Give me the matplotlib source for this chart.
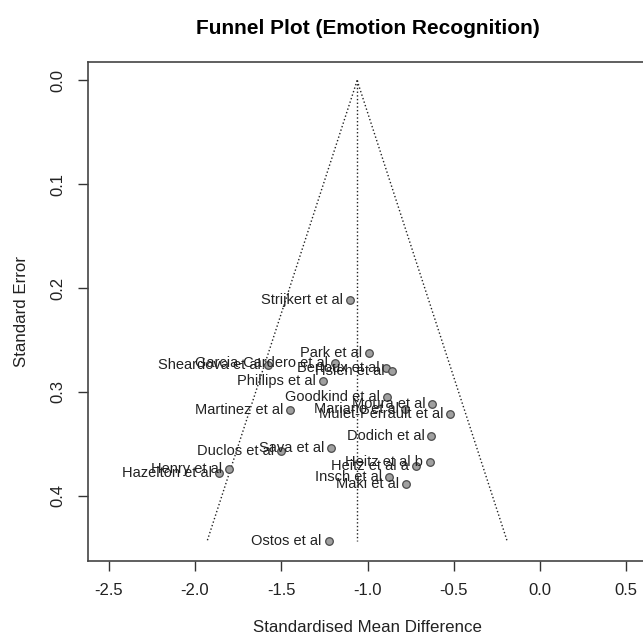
import numpy as np
import matplotlib
matplotlib.use("Agg")
import matplotlib.pyplot as plt

plt.rcParams['font.family'] = ['Liberation Sans', 'DejaVu Sans']

# study labels, effect sizes (SMD) and standard errors
studies = ["Strijkert et al", "Park et al", "Garcia-Cardero et al", "Sheardova et al",
           "Bertoux et al", "Hsieh et al", "Phillips et al", "Goodkind et al",
           "Martinez et al", "Moura et al", "Mariano et al", "Mulet-Perrault et al",
           "Dodich et al", "Sava et al", "Duclos et al", "Henry et al",
           "Hazelton et al", "Heitz et al b", "Heitz et al a", "Insch et al",
           "Maki et al", "Ostos et al"]
smd = [-1.10, -0.99, -1.19, -1.575,
       -0.89, -0.86, -1.26, -0.885,
       -1.45, -0.625, -0.78, -0.52,
       -0.63, -1.21, -1.50, -1.80,
       -1.86, -0.64, -0.72, -0.875,
       -0.775, -1.225]
se = [0.211, 0.262, 0.272, 0.274,
      0.277, 0.280, 0.289, 0.305,
      0.317, 0.312, 0.316, 0.321,
      0.342, 0.354, 0.357, 0.374,
      0.378, 0.367, 0.371, 0.382,
      0.389, 0.444]
pooled = -1.06

fig = plt.figure(figsize=(6.43, 6.34), dpi=100)
ax = fig.add_axes([88 / 643, 73 / 634, 559 / 643, 499 / 634])

ax.scatter(smd, se, s=30, facecolor="#a0a0a0", edgecolor="#4a4a4a", linewidth=0.9, zorder=3)
for name, x, y in zip(studies, smd, se):
    ax.annotate(name, (x, y), xytext=(-5, 0), textcoords="offset points",
                ha="right", va="center", fontsize=10.5, color="#222222", zorder=4)

# funnel: pooled estimate +/- 1.96 * SE
top = max(se)
ax.plot([pooled, pooled], [0, top], ls=":", color="#222222", lw=1)
ax.plot([pooled, pooled - 1.96 * top], [0, top], ls=":", color="#222222", lw=1)
ax.plot([pooled, pooled + 1.96 * top], [0, top], ls=":", color="#222222", lw=1)

ax.set_xlim(-2.62, 0.62)
ax.set_ylim(0.4628, -0.0178)
ax.set_xticks([-2.5, -2.0, -1.5, -1.0, -0.5, 0.0, 0.5])
ax.set_yticks([0.0, 0.1, 0.2, 0.3, 0.4])
ax.set_xticklabels(["-2.5", "-2.0", "-1.5", "-1.0", "-0.5", "0.0", "0.5"])
ax.set_yticklabels(["0.0", "0.1", "0.2", "0.3", "0.4"], rotation=90, va="center")
ax.tick_params(direction="out", length=7, width=1, colors="#333333", labelsize=12, pad=9)
ax.tick_params(axis="x", labelcolor="#222222")
ax.tick_params(axis="y", labelcolor="#222222")
for s in ax.spines.values():
    s.set_color("#444444")
    s.set_linewidth(1.2)

ax.set_xlabel("Standardised Mean Difference", fontsize=12.2, color="#222222", labelpad=16)
ax.set_ylabel("Standard Error", fontsize=12.2, color="#222222", labelpad=16)
ax.set_title("Funnel Plot (Emotion Recognition)", fontsize=15, fontweight="bold", pad=20)

fig.savefig("out.png", dpi=100)
